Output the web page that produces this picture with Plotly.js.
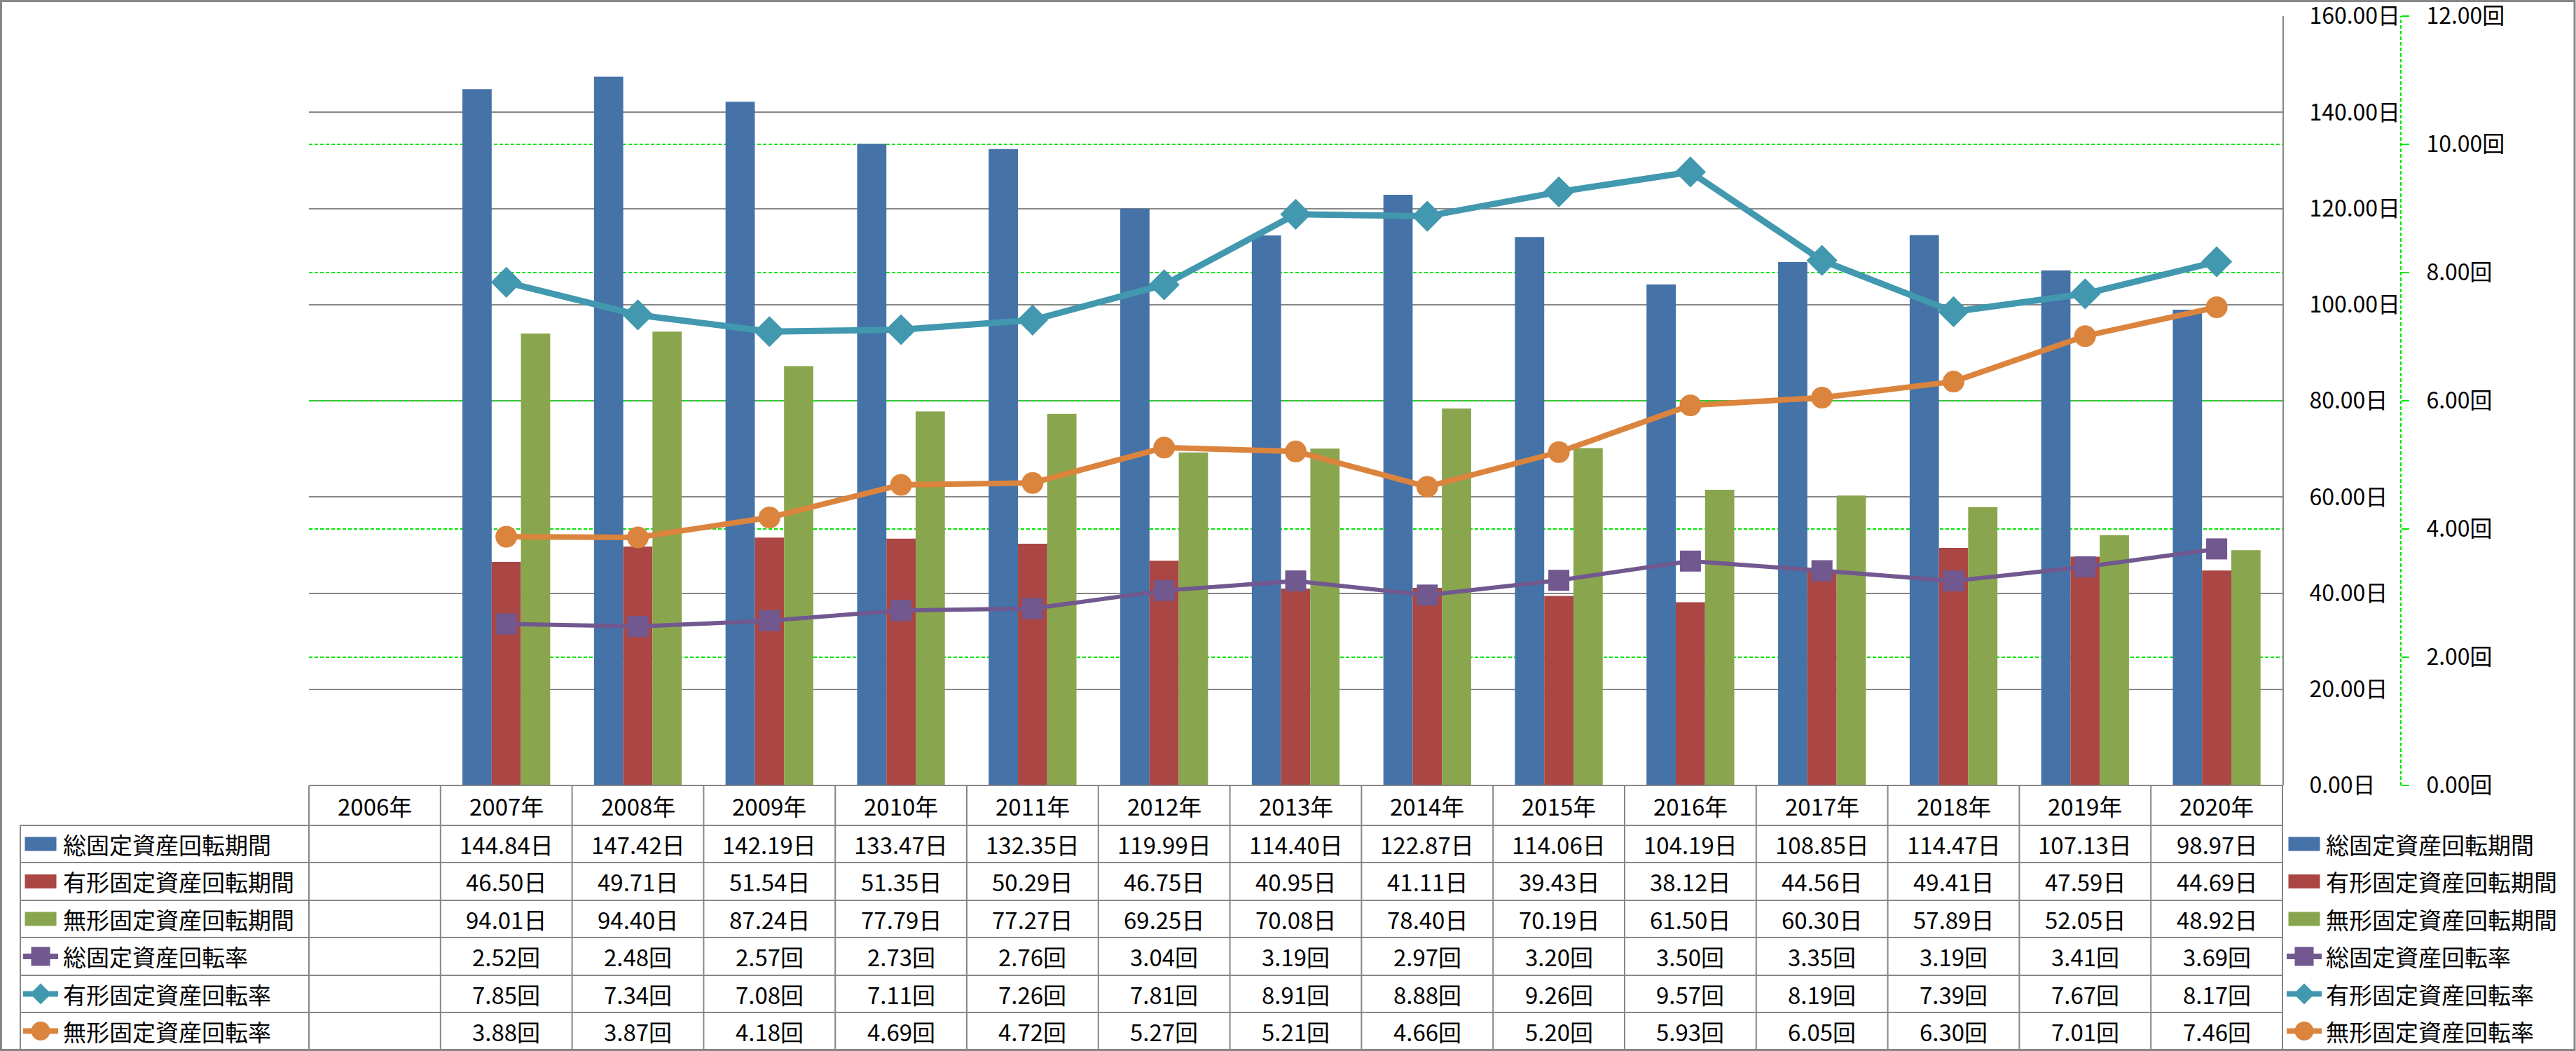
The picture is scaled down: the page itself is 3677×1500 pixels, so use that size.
<!DOCTYPE html>
<html><head><meta charset="utf-8">
<script src="https://cdn.plot.ly/plotly-3.0.1.min.js"></script>
<style>html,body{margin:0;padding:0;background:#fff;overflow:hidden}</style>
</head><body>
<div id="chart" style="width:3677px;height:1500px"></div>
<script>
// ---------- data ----------
const years = ['2006年','2007年','2008年','2009年','2010年','2011年','2012年','2013年','2014年','2015年','2016年','2017年','2018年','2019年','2020年'];
const seriesNames = ['総固定資産回転期間','有形固定資産回転期間','無形固定資産回転期間','総固定資産回転率','有形固定資産回転率','無形固定資産回転率'];
const units = ['日','日','日','回','回','回'];
const totalPeriod    = [null,144.84,147.42,142.19,133.47,132.35,119.99,114.40,122.87,114.06,104.19,108.85,114.47,107.13,98.97];
const tangiblePeriod = [null,46.50,49.71,51.54,51.35,50.29,46.75,40.95,41.11,39.43,38.12,44.56,49.41,47.59,44.69];
const intangPeriod   = [null,94.01,94.40,87.24,77.79,77.27,69.25,70.08,78.40,70.19,61.50,60.30,57.89,52.05,48.92];
const totalTurnover  = [null,2.52,2.48,2.57,2.73,2.76,3.04,3.19,2.97,3.20,3.50,3.35,3.19,3.41,3.69];
const tangibleTurn   = [null,7.85,7.34,7.08,7.11,7.26,7.81,8.91,8.88,9.26,9.57,8.19,7.39,7.67,8.17];
const intangTurn     = [null,3.88,3.87,4.18,4.69,4.72,5.27,5.21,4.66,5.20,5.93,6.05,6.30,7.01,7.46];
const seriesValues = [totalPeriod, tangiblePeriod, intangPeriod, totalTurnover, tangibleTurn, intangTurn];
const dayTicks  = [0,20,40,60,80,100,120,140,160];
const rateTicks = [0,2,4,6,8,10,12];

// ---------- styles / layout constants ----------
const colors = ['#4572A7','#AA4643','#89A54E','#71588F','#4198AF','#DB843D'];
const symbols = [null,null,null,'square','diamond','circle'];
const msizes = [0,0,0,30,34,31];
const lwidths = [0,0,0,6,9,8];
const FONT = '"Noto Sans CJK JP", "Noto Sans", sans-serif';
const FS = 33;
const GRAY = '#878787';
const GREEN = '#00e600';
const W = 3677, H = 1500;
const L = 441, PR = 3258, AX2 = 3427, T = 23, B = 1121;
const paperW = AX2 - L, paperH = B - T;
const px = x => (x - L) / paperW;
const py = y => (B - y) / paperH;
const rowLines = [1178, 1231, 1285, 1338, 1392, 1445, 1498];
const rowCenters = [1204.5, 1258, 1311.5, 1365, 1418.5, 1471.5];
const headerCenter = 1150;
const colW = (PR - L) / years.length;

// ---------- traces ----------
const traces = [];
for (let s = 0; s < 3; s++) {
  traces.push({type:'bar', name:seriesNames[s], x:years, y:seriesValues[s],
    marker:{color:colors[s], line:{width:0}}, xaxis:'x', yaxis:'y', hoverinfo:'skip'});
}
for (let s = 3; s < 6; s++) {
  traces.push({type:'scatter', mode:'lines+markers', name:seriesNames[s], x:years, y:seriesValues[s],
    line:{color:colors[s], width:lwidths[s]},
    marker:{symbol:symbols[s], size:msizes[s], color:colors[s], line:{width:0}},
    xaxis:'x', yaxis:'y2', connectgaps:false, hoverinfo:'skip'});
}

// ---------- shapes & annotations (data table + legends) ----------
const shapes = [];
const annotations = [];
const hline = (y, x0, x1, color, width, dash) => shapes.push({type:'line', xref:'paper', yref:'paper',
  x0:px(x0), x1:px(x1), y0:py(y), y1:py(y), line:{color:color, width:width, dash:dash||'solid'}});
const vline = (x, y0, y1, color, width, dash) => shapes.push({type:'line', xref:'paper', yref:'paper',
  x0:px(x), x1:px(x), y0:py(y0), y1:py(y1), line:{color:color, width:width, dash:dash||'solid'}});

// table lines
hline(B, L, PR, GRAY, 2);
for (let i = 0; i < rowLines.length - 1; i++) hline(rowLines[i], 29, PR, GRAY, 2);
vline(29, rowLines[0], 1498, GRAY, 2);
for (let k = 0; k <= years.length; k++) vline(L + k * colW, B, 1498, GRAY, 2);

// secondary axis dashed line
shapes.push({type:'line', xref:'paper', yref:'paper', x0:1, x1:1, y0:0, y1:1,
  line:{color:GREEN, width:2, dash:'5px,3px'}});

// legend key drawing
function legendKey(s, cx, cy) {
  if (s < 3) {
    shapes.push({type:'rect', xref:'paper', yref:'paper', x0:px(cx-22.5), x1:px(cx+22.5),
      y0:py(cy+10), y1:py(cy-10), fillcolor:colors[s], line:{width:0}});
  } else {
    shapes.push({type:'line', xref:'paper', yref:'paper', x0:px(cx-25), x1:px(cx+25),
      y0:py(cy), y1:py(cy), line:{color:colors[s], width:8}});
    const r = 13.5;
    if (symbols[s] === 'square') {
      shapes.push({type:'rect', xref:'paper', yref:'paper', x0:px(cx-r), x1:px(cx+r),
        y0:py(cy+r), y1:py(cy-r), fillcolor:colors[s], line:{width:0}});
    } else if (symbols[s] === 'circle') {
      shapes.push({type:'circle', xref:'paper', yref:'paper', x0:px(cx-r), x1:px(cx+r),
        y0:py(cy+r), y1:py(cy-r), fillcolor:colors[s], line:{width:0}});
    } else {
      const d = 15;
      const p = `M ${px(cx-d)} ${py(cy)} L ${px(cx)} ${py(cy-d)} L ${px(cx+d)} ${py(cy)} L ${px(cx)} ${py(cy+d)} Z`;
      shapes.push({type:'path', xref:'paper', yref:'paper', path:p, fillcolor:colors[s], line:{width:0}});
    }
  }
}

const txt = (text, x, xref, y, xanchor) => annotations.push({text:text, x:x, xref:xref, y:py(y), yref:'paper',
  xanchor:xanchor, yanchor:'middle', showarrow:false, font:{family:FONT, size:FS, color:'#000'}});

// header row
years.forEach(yr => txt(yr, yr, 'x', headerCenter, 'center'));
// rows
for (let s = 0; s < 6; s++) {
  const cy = rowCenters[s];
  legendKey(s, 58, cy);
  txt(seriesNames[s], px(88), 'paper', cy, 'left');
  seriesValues[s].forEach((v, i) => {
    if (v !== null) txt(v.toFixed(2) + units[s], years[i], 'x', cy, 'center');
  });
  // right legend
  legendKey(s, 3289, cy);
  txt(seriesNames[s], px(3318), 'paper', cy, 'left');
}

// outer border
shapes.push({type:'rect', xref:'paper', yref:'paper', x0:px(1.5), x1:px(W-2), y0:py(H-1.5), y1:py(1.5),
  line:{color:GRAY, width:3}, fillcolor:'rgba(0,0,0,0)'});

const layout = {
  width:W, height:H,
  margin:{l:L, r:W-AX2, t:T, b:H-B, pad:0},
  paper_bgcolor:'#fff', plot_bgcolor:'#fff',
  showlegend:false,
  barmode:'group', bargap:0.333, bargroupgap:0,
  font:{family:FONT, size:32, color:'#000'},
  xaxis:{type:'category', domain:[0, (PR-L)/paperW], range:[-0.5, years.length-0.5],
    showticklabels:false, showgrid:false, zeroline:false, showline:false, ticks:'', fixedrange:true},
  yaxis:{range:[0,160.02], tickmode:'array', tickvals:dayTicks, ticktext:dayTicks.map(v => v.toFixed(2) + '日'),
    side:'right', anchor:'x',
    showgrid:true, gridcolor:GRAY, gridwidth:2, zeroline:false,
    showline:true, linecolor:GRAY, linewidth:2, ticks:'',
    ticklabelstandoff:30, ticklabeloverflow:'allow',
    tickfont:{family:FONT, size:32, color:'#000'}, fixedrange:true},
  yaxis2:{range:[0,12.0015], tickmode:'array', tickvals:rateTicks, ticktext:rateTicks.map(v => v.toFixed(2) + '回'),
    overlaying:'y', side:'right', anchor:'free', position:1,
    showgrid:true, gridcolor:GREEN, gridwidth:2, griddash:'5px,3px', zeroline:false,
    showline:false, ticks:'outside', ticklen:11, tickwidth:2, tickcolor:GREEN,
    ticklabelstandoff:18, ticklabeloverflow:'allow',
    tickfont:{family:FONT, size:32, color:'#000'}, fixedrange:true},
  shapes:shapes, annotations:annotations
};

Plotly.newPlot('chart', traces, layout, {displayModeBar:false, staticPlot:true});
</script>
</body></html>
